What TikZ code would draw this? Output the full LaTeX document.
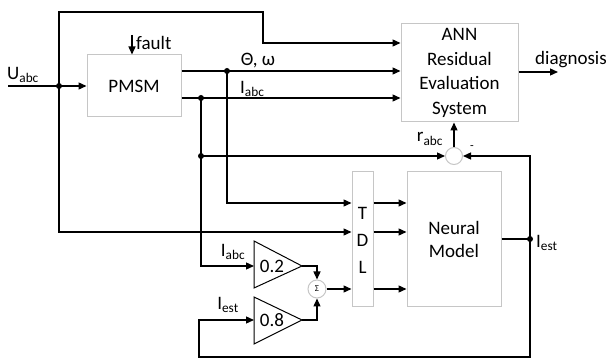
\documentclass[tikz,border=0pt]{standalone}
\usepackage{fontspec}
\setmainfont{Carlito}
\usetikzlibrary{arrows.meta}
\begin{document}
\begin{tikzpicture}[x=1pt,y=-1pt,
  every node/.style={font=\fontsize{19}{23}\selectfont},
  box/.style={draw=gray!45,line width=1pt,inner sep=0pt},
  wire/.style={line width=1.3pt},
  arr/.style={wire,-{Triangle[length=8pt,width=7pt]}},
  dotnode/.style={circle,fill=black,inner sep=0pt,minimum size=6pt},
  sumc/.style={circle,draw=gray!45,line width=1pt,inner sep=0pt,minimum size=17pt},
  lbl/.style={inner sep=1pt}]
\useasboundingbox (0,0) rectangle (611,358);
% blocks
\node[box,minimum width=94pt,minimum height=62pt] (pmsm) at (134,86) {PMSM};
\node[box,minimum width=117pt,minimum height=98pt,align=center,font=\fontsize{19}{24.5}\selectfont] (ann) at (459.5,73) {ANN\\Residual\\Evaluation\\System};
\node[box,minimum width=21pt,minimum height=135pt] (tdl) at (362.5,239.5) {};
\node at (362.5,213) {T};
\node at (362.5,240) {D};
\node at (362.5,267) {L};
\node[box,minimum width=94pt,minimum height=135pt,align=center] (nm) at (454,239.5) {Neural\\Model};
\node[sumc] (rs) at (454,156) {};
\node[sumc,minimum size=18pt,font=\fontsize{9}{10}\selectfont] (sg) at (317,289) {Σ};
% gain triangles
\draw[line width=1pt] (254,241) -- (302,266) -- (254,288) -- cycle;
\node (g2) at (272,266) {0.2};
\draw[line width=1pt] (254,297) -- (302,320) -- (254,344) -- cycle;
\node (g8) at (272,320) {0.8};
\coordinate (g2in) at (254,266);
\coordinate (g2out) at (302,266);
\coordinate (g8in) at (254,320);
\coordinate (g8out) at (302,320);
% dots
\node[dotnode] (du) at (59,86) {};
\node[dotnode] (dth) at (227,71) {};
\node[dotnode] (di) at (201,98) {};
\node[dotnode] (di2) at (201,156) {};
\node[dotnode] (dest) at (530,239) {};
\coordinate (uin) at (8,86);
\coordinate (fin) at (132,35);
\coordinate (diag) at (558,72);
% wires
\draw[arr] (uin) -- (pmsm.west |- uin);
\draw[arr] (fin) -- (pmsm.north -| fin);
\draw[arr] (du.center) -- (59,12) -- (263,12) -- (263,43) -- (ann.west |- 0,43);
\draw[arr] (du.center) -- (59,232) -- (tdl.west |- 0,232);
\draw[arr] (pmsm.east |- 0,71) -- (ann.west |- 0,71);
\draw[arr] (pmsm.east |- 0,98) -- (ann.west |- 0,98);
\draw[arr] (dth.center) -- (227,203) -- (tdl.west |- 0,203);
\draw[arr] (di.center) -- (201,266) -- (g2in);
\draw[arr] (di2.center) -- (rs.west);
\draw[arr] (rs.north) -- (ann.south -| rs);
\draw[arr] (ann.east |- diag) -- (diag);
\draw[arr] (g2out) -- (317,266) -- (sg.north);
\draw[arr] (g8out) -- (317,320) -- (sg.south);
\draw[arr] (sg.east) -- (tdl.west |- sg);
\foreach \yy in {203,232,289} \draw[arr] (tdl.east |- 0,\yy) -- (nm.west |- 0,\yy);
\draw[wire] (nm.east |- dest) -- (dest.center);
\draw[arr] (dest.center) -- (530,156) -- (rs.east);
\draw[arr] (dest.center) -- (530,357) -- (199,357) -- (199,320) -- (g8in);
% labels
\node[lbl,anchor=south west] at (6,84) {U\textsubscript{abc}};
\node[lbl,anchor=west] at (135,43) {fault};
\node[lbl] at (258,61) {Θ, ω};
\node[lbl,anchor=west] at (239,89) {I\textsubscript{abc}};
\node[lbl] at (571,60) {diagnosis};
\node[lbl] at (430,139) {r\textsubscript{abc}};
\node[lbl,font=\fontsize{12}{12}\selectfont] at (472,148) {-};
\node[lbl,anchor=west] at (535,243) {I\textsubscript{est}};
\node[lbl] at (233,252) {I\textsubscript{abc}};
\node[lbl] at (228,305) {I\textsubscript{est}};
\end{tikzpicture}
\end{document}
